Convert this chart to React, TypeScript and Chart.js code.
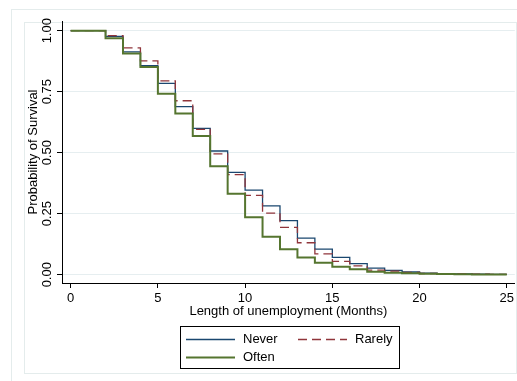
import React, { useEffect, useRef } from 'react';
import { Chart, registerables } from 'chart.js';

Chart.register(...registerables);

// Kaplan-Meier survival estimates (step function), months of unemployment
const months = [0, 2, 3, 4, 5, 6, 7, 8, 9, 10, 11, 12, 13, 14, 15, 16, 17, 18, 19, 20, 21, 22, 23, 24, 25];
const never = [1, 0.977, 0.913, 0.857, 0.784, 0.689, 0.6, 0.507, 0.419, 0.347, 0.282, 0.222, 0.15, 0.105, 0.071, 0.045, 0.027, 0.018, 0.011, 0.006, 0.004, 0.003, 0.002, 0.001, 0.001];
const rarely = [1, 0.98, 0.93, 0.876, 0.794, 0.713, 0.596, 0.495, 0.41, 0.325, 0.252, 0.194, 0.131, 0.085, 0.055, 0.036, 0.019, 0.015, 0.009, 0.005, 0.004, 0.003, 0.002, 0.001, 0.001];
const often = [1, 0.969, 0.907, 0.851, 0.742, 0.661, 0.568, 0.445, 0.332, 0.235, 0.156, 0.104, 0.07, 0.049, 0.033, 0.022, 0.012, 0.008, 0.006, 0.004, 0.003, 0.002, 0.001, 0.001, 0.001];

const seriesNames = ['Never', 'Rarely', 'Often'];
const xTicks = [0, 5, 10, 15, 20, 25];
const yTicks = [0, 0.25, 0.5, 0.75, 1];
const yTickLabels = ['0.00', '0.25', '0.50', '0.75', '1.00'];
const xTitle = 'Length of unemployment (Months)';
const yTitle = 'Probability of Survival';

const FONT = '"Liberation Sans", Arial, Helvetica, sans-serif';
const BLUE = '#1a476f';
const RED = '#90353b';
const GREEN = '#55752f';

const toPoints = (vals: number[]) => months.map((m, i) => ({ x: m, y: vals[i] }));

const decorPlugin = {
  id: 'decor',
  beforeDraw(chart: any) {
    const ctx = chart.ctx;
    ctx.save();
    ctx.fillStyle = '#ffffff';
    ctx.fillRect(0, 0, chart.width, chart.height);
    ctx.strokeStyle = '#e4ecec';
    ctx.lineWidth = 1;
    ctx.strokeRect(11.5, 9.5, 520, 390);
    ctx.strokeRect(24.5, 22.5, 492, 351);
    ctx.restore();
  },
  afterDraw(chart: any) {
    const ctx = chart.ctx;
    const yScale = chart.scales.y;
    ctx.save();
    // rotated y tick labels
    ctx.fillStyle = '#000';
    ctx.font = `13px ${FONT}`;
    ctx.textAlign = 'center';
    ctx.textBaseline = 'middle';
    yTicks.forEach((v, i) => {
      const py = yScale.getPixelForValue(v);
      ctx.save();
      ctx.translate(47, py);
      ctx.rotate(-Math.PI / 2);
      ctx.fillText(yTickLabels[i], 0, 0);
      ctx.restore();
    });

    // legend
    ctx.strokeStyle = '#000';
    ctx.lineWidth = 1;
    ctx.strokeRect(180.5, 326.5, 219, 42);
    const items = [
      { name: seriesNames[0], color: BLUE, dash: [] as number[], w: 1.3, x: 186, y: 339.5 },
      { name: seriesNames[1], color: RED, dash: [9, 5], w: 1.3, x: 298, y: 339.5 },
      { name: seriesNames[2], color: GREEN, dash: [] as number[], w: 2, x: 186, y: 357.5 },
    ];
    items.forEach((it) => {
      ctx.save();
      ctx.strokeStyle = it.color;
      ctx.lineWidth = it.w;
      ctx.setLineDash(it.dash);
      ctx.beginPath();
      ctx.moveTo(it.x, it.y);
      ctx.lineTo(it.x + 49, it.y);
      ctx.stroke();
      ctx.restore();
      ctx.fillStyle = '#000';
      ctx.textAlign = 'left';
      ctx.textBaseline = 'middle';
      ctx.fillText(it.name, it.x + 57, it.y);
    });
    ctx.restore();
  },
};

export default function App() {
  const ref = useRef<HTMLCanvasElement | null>(null);

  useEffect(() => {
    document.body.style.margin = '0';
    const canvas = ref.current;
    if (!canvas) return;
    const chart = new Chart(canvas, {
      type: 'line',
      data: {
        datasets: [
          {
            label: seriesNames[0],
            data: toPoints(never),
            borderColor: BLUE,
            borderWidth: 1.3,
            stepped: 'before',
            pointRadius: 0,
            fill: false,
            order: 3,
          },
          {
            label: seriesNames[1],
            data: toPoints(rarely),
            borderColor: RED,
            borderWidth: 1.3,
            borderDash: [9, 5],
            stepped: 'before',
            pointRadius: 0,
            fill: false,
            order: 2,
          },
          {
            label: seriesNames[2],
            data: toPoints(often),
            borderColor: GREEN,
            borderWidth: 2,
            stepped: 'before',
            pointRadius: 0,
            fill: false,
            order: 1,
          },
        ],
      },
      options: {
        animation: false,
        responsive: false,
        devicePixelRatio: 1,
        layout: { padding: { left: 0, top: 21, right: 0, bottom: 0 } },
        plugins: { legend: { display: false }, tooltip: { enabled: false } },
        scales: {
          x: {
            type: 'linear',
            min: -0.496,
            max: 25.46,
            afterBuildTicks: (s: any) => {
              s.ticks = xTicks.map((v) => ({ value: v }));
            },
            afterFit: (s: any) => {
              s.height = 98;
            },
            grid: { drawOnChartArea: false, tickLength: 5, tickColor: '#000', lineWidth: 1 },
            border: { color: '#000', width: 1 },
            ticks: {
              color: '#000',
              font: { family: FONT, size: 13 },
              padding: 3,
              maxRotation: 0,
              autoSkip: false,
              callback: (v: any) => String(v),
            },
            title: {
              display: true,
              text: xTitle,
              color: '#000',
              font: { family: FONT, size: 13 },
              padding: { top: 0, bottom: 61.5 },
            },
          },
          y: {
            type: 'linear',
            min: -0.034,
            max: 1.0398,
            afterBuildTicks: (s: any) => {
              s.ticks = yTicks.map((v) => ({ value: v }));
            },
            afterFit: (s: any) => {
              s.width = 62;
            },
            grid: { color: '#e6eef0', tickColor: '#000', tickLength: 5, lineWidth: 1 },
            border: { color: '#000', width: 1 },
            ticks: { display: false },
            title: {
              display: true,
              text: yTitle,
              color: '#000',
              font: { family: FONT, size: 13 },
              padding: { top: 26, bottom: 0 },
            },
          },
        },
      },
      plugins: [decorPlugin],
    } as any);
    return () => chart.destroy();
  }, []);

  return (
    <div style={{ width: 517, height: 381 }}>
      <canvas ref={ref} width={517} height={381} style={{ width: 517, height: 381, display: 'block' }} />
    </div>
  );
}
